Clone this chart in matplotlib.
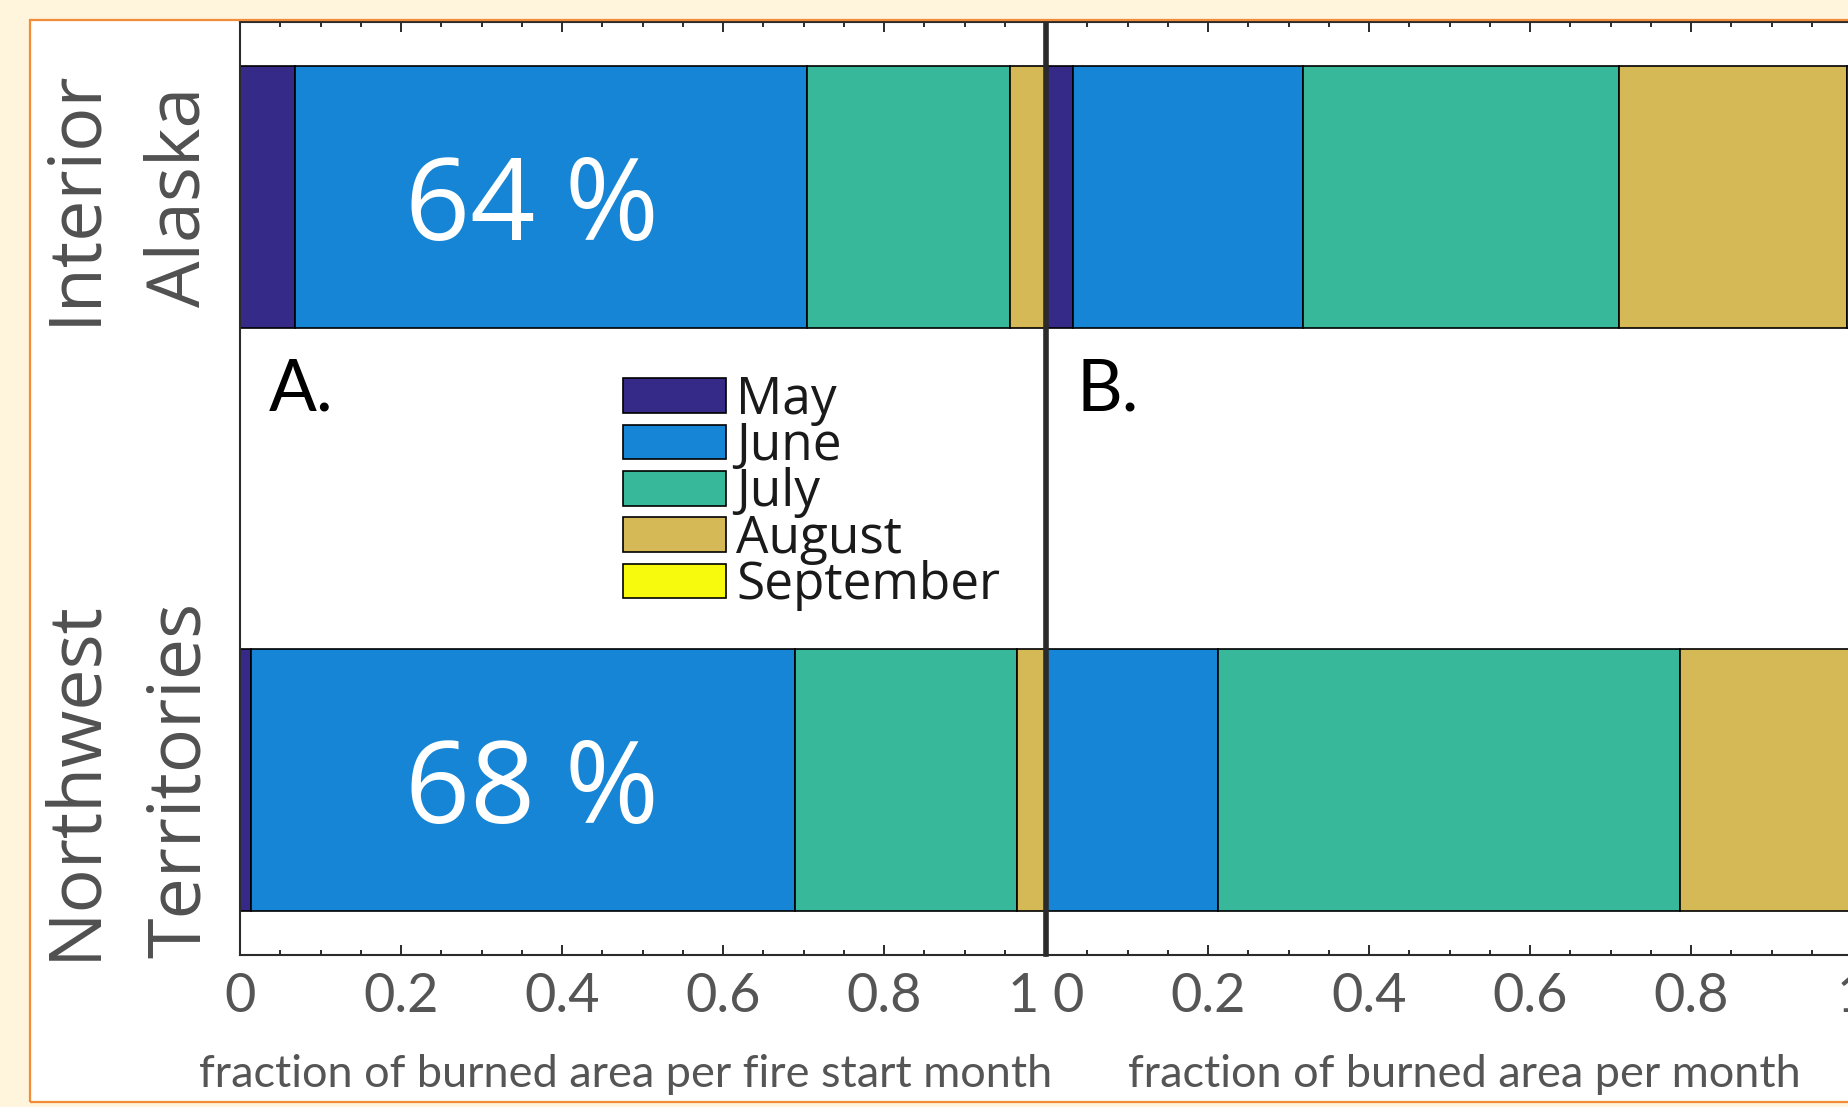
import numpy as np
import matplotlib
matplotlib.use('Agg')
import matplotlib.pyplot as plt
from matplotlib.patches import Rectangle
from matplotlib.ticker import MultipleLocator
from matplotlib.transforms import ScaledTranslation

months = ['May', 'June', 'July', 'August', 'September']
colors = ['#352a87', '#1785d5', '#38b89b', '#d5b957', '#f8fa0d']
regions = ['Interior\nAlaska', 'Northwest\nTerritories']

# A: fraction of burned area per fire start month (Interior Alaska, NWT)
start_may = [0.068, 0.014]
start_june = [0.636, 0.675]
start_july = [0.253, 0.276]
start_aug = [0.043, 0.035]
start_sep = [0.0, 0.0]

# B: fraction of burned area per month
burn_may = [0.032, 0.0]
burn_june = [0.286, 0.212]
burn_july = [0.393, 0.574]
burn_aug = [0.283, 0.214]
burn_sep = [0.006, 0.0]

pct_labels = ['64 %', '68 %']
xticks = [0, 0.2, 0.4, 0.6, 0.8, 1]
xticklabels = ['0', '0.2', '0.4', '0.6', '0.8', '1']

W, H = 1848, 1107
SPINE = '#2b2b2b'
GREY = '#555555'


def px(x0, y0, x1, y1):
    # pixel box (top-left origin) -> figure fraction rect
    return [x0 / W, 1 - y1 / H, (x1 - x0) / W, (y1 - y0) / H]


def draw_panel(ax, parts, xlabel, xlab_x):
    y = np.arange(1, len(regions) + 1)
    left = np.zeros(len(regions))
    for vals, c, m in zip(parts, colors, months):
        ax.barh(y, vals, height=0.45, left=left, color=c,
                edgecolor='black', linewidth=1.2, label=m, zorder=2)
        left += np.array(vals)

    ax.set_xlim(0, 1)
    ax.set_ylim(2.3, 0.7)
    ax.set_yticks(y)
    ax.set_xticks(xticks, xticklabels, family='Lato')
    ax.xaxis.set_minor_locator(MultipleLocator(0.05))
    ax.tick_params(axis='x', which='both', direction='in', top=True, bottom=True,
                   color=SPINE, width=1.4, labelsize=39, labelcolor=GREY, pad=12)
    ax.tick_params(axis='x', which='major', length=7.5)
    ax.tick_params(axis='x', which='minor', length=3.8)
    for s in ax.spines.values():
        s.set_color(SPINE)
        s.set_linewidth(1.5)
    ax.set_xlabel(xlabel, fontsize=32.5, color=GREY, family='Lato',
                  labelpad=24, x=xlab_x)


fig = plt.figure(figsize=(W / 100, H / 100), dpi=100, facecolor='#fff5dc')

# white panel with orange frame
fig.add_artist(Rectangle((30 / W, 5 / H), 1850 / W, 1082 / H, transform=fig.transFigure,
                         facecolor='white', edgecolor='none', zorder=-5))
fig.add_artist(Rectangle((30 / W, 5 / H), 1850 / W, 1082 / H, transform=fig.transFigure,
                         facecolor='none', edgecolor='#f28c38', linewidth=1.6, zorder=10))

axA = fig.add_axes(px(240, 22, 1045, 955))
axB = fig.add_axes(px(1047, 22, 1852, 955))

draw_panel(axA, [start_may, start_june, start_july, start_aug, start_sep],
           'fraction of burned area per fire start month', 0.479)
draw_panel(axB, [burn_may, burn_june, burn_july, burn_aug, burn_sep],
           'fraction of burned area per month', 0.518)

axA.set_yticklabels(regions, rotation=90, va='center', ha='right',
                    multialignment='center', fontsize=53, color='#505050',
                    family='Open Sans', linespacing=1.56)
axA.tick_params(axis='y', length=0, pad=16)
axB.tick_params(axis='y', length=0, labelleft=False)

axA.spines['right'].set_linewidth(2.6)
axB.spines['left'].set_linewidth(2.6)

# labels at the shared boundary pushed apart
labA = axA.get_xticklabels()[-1]
labA.set_ha('right')
labA.set_transform(labA.get_transform() + ScaledTranslation(-6 / 100, 0, fig.dpi_scale_trans))
labB = axB.get_xticklabels()[0]
labB.set_ha('left')
labB.set_transform(labB.get_transform() + ScaledTranslation(5 / 100, 0, fig.dpi_scale_trans))

# share of June fire starts
for yi, t in zip([1, 2], pct_labels):
    axA.text(0.363, yi + 0.073, t, color='white', fontsize=82, family='Open Sans',
             ha='center', va='baseline', zorder=5)

axA.text(0.036, 0.584, 'A.', transform=axA.transAxes, fontsize=51,
         family='Lato', va='baseline', color='black')
axB.text(0.037, 0.584, 'B.', transform=axB.transAxes, fontsize=51,
         family='Lato', va='baseline', color='black')

axA.legend(loc='upper left', bbox_to_anchor=(0.476, 0.622), frameon=False,
           prop={'family': 'Open Sans', 'size': 37},
           handlelength=2.0, handleheight=0.66, handletextpad=0.2,
           labelspacing=-0.09, borderpad=0, borderaxespad=0, labelcolor='#1a1a1a')

fig.savefig('out.png', dpi=100, facecolor=fig.get_facecolor())
